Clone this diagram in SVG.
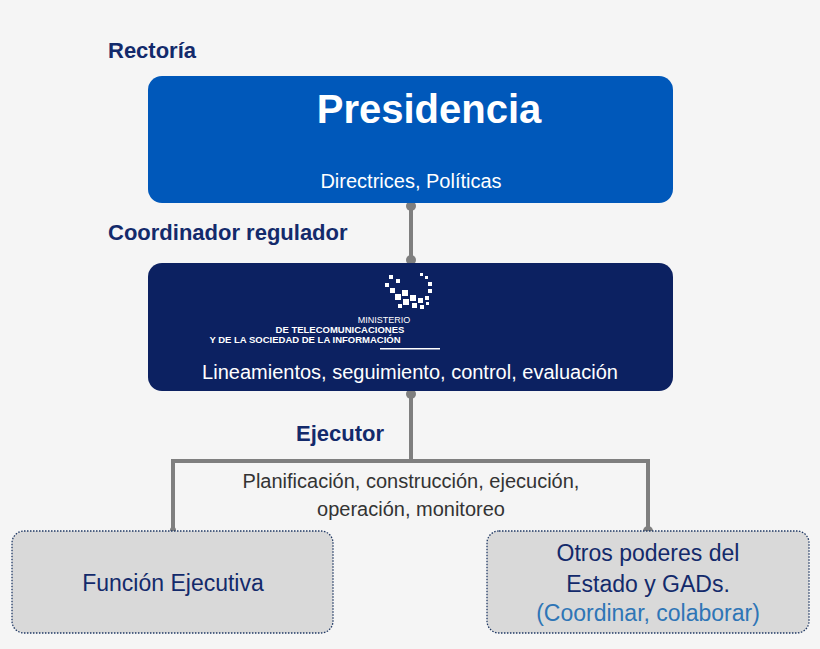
<svg xmlns="http://www.w3.org/2000/svg" width="820" height="649" viewBox="0 0 820 649">
<style>
.lbl{font-family:"Liberation Sans",Arial,sans-serif;font-weight:bold;fill:#132a6b;font-size:22px}
.w{font-family:"Liberation Sans",Arial,sans-serif;fill:#fff;text-anchor:middle}
.g{font-family:"Liberation Sans",Arial,sans-serif;fill:#333;font-size:20px;text-anchor:middle}
.b{font-family:"Liberation Sans",Arial,sans-serif;fill:#132a6b;font-size:23px;text-anchor:middle}
.box{fill:#d9d9d9;stroke:#1f3864;stroke-width:1.3;stroke-dasharray:1.5 1.5}
.ln{stroke:#7f7f7f;stroke-width:4;fill:none}
.dot{fill:#7f7f7f}
</style>
<rect width="820" height="649" fill="#f5f5f5"/>
<text class="lbl" x="108" y="58">Rectoría</text>
<text class="lbl" x="108" y="240">Coordinador regulador</text>
<text class="lbl" x="296" y="441">Ejecutor</text>
<g id="connectors">
<path class="ln" d="M411 203V263"/>
<path class="ln" d="M411 391V461H173V530M411 461H648V530"/>
<circle class="dot" cx="411" cy="206" r="5"/>
<circle class="dot" cx="411" cy="260" r="5"/>
<circle class="dot" cx="411" cy="394" r="5"/>
<circle class="dot" cx="648" cy="531" r="5"/>
<circle class="dot" cx="173" cy="530" r="3"/>
</g>
<text class="g" x="411" y="488">Planificación, construcción, ejecución,</text>
<text class="g" x="411" y="516">operación, monitoreo</text>
<g id="presidencia">
<rect x="148" y="76" width="525" height="127" rx="14" fill="#0058ba"/>
<text class="w" x="429" y="123" font-size="40" font-weight="bold">Presidencia</text>
<text class="w" x="411" y="188" font-size="20">Directrices, Políticas</text>
</g>
<g id="ministerio">
<rect x="148" y="263" width="525" height="128" rx="14" fill="#0c2161"/>
<g fill="#fff">
<rect x="389" y="275" width="4" height="4"/><rect x="385" y="283" width="4" height="4"/><rect x="390" y="288" width="5" height="5"/>
<rect x="396" y="279" width="4" height="4"/><rect x="395" y="294" width="6" height="6"/><rect x="402" y="290" width="6" height="6"/>
<rect x="403" y="299" width="6" height="6"/><rect x="410" y="295" width="6" height="6"/><rect x="412" y="303" width="5" height="5"/>
<rect x="418" y="298" width="5" height="5"/><rect x="420" y="305" width="4" height="4"/><rect x="425" y="296" width="4" height="4"/>
<rect x="428" y="289" width="4" height="4"/><rect x="428" y="282" width="4" height="4"/><rect x="425" y="276" width="3" height="3"/>
<rect x="420" y="273" width="3" height="3"/><rect x="398" y="304" width="4" height="4"/><rect x="426" y="302" width="3" height="3"/>
</g>
<text class="w" x="384" y="323" font-size="9" text-anchor="start">MINISTERIO</text>
<text class="w" x="340" y="333" font-size="9.5" font-weight="bold" text-anchor="start">DE TELECOMUNICACIONES</text>
<text class="w" x="305" y="343" font-size="9.5" font-weight="bold" text-anchor="start">Y DE LA SOCIEDAD DE LA INFORMACIÓN</text>
<rect x="380" y="348" width="60" height="1.5" fill="#fff"/>
<text class="w" x="410" y="379" font-size="20">Lineamientos, seguimiento, control, evaluación</text>
</g>
<g id="funcion">
<rect class="box" x="12" y="531" width="321" height="102" rx="12"/>
<text class="b" x="173" y="591">Función Ejecutiva</text>
</g>
<g id="otros">
<rect class="box" x="487" y="531" width="322" height="102" rx="12"/>
<text class="b" x="648" y="561">Otros poderes del</text>
<text class="b" x="648" y="592">Estado y GADs.</text>
<text class="b" x="648" y="621" font-size="20" fill="#2e75b6" style="fill:#2e75b6">(Coordinar, colaborar)</text>
</g>
</svg>
